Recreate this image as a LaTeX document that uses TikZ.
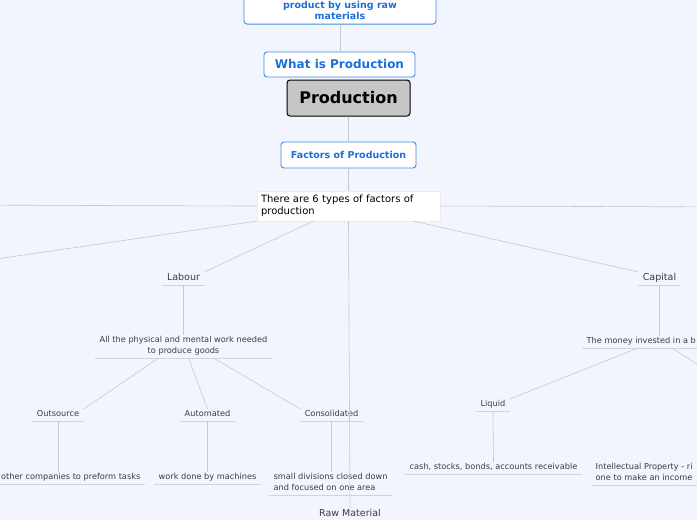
\documentclass[tikz,border=0pt]{standalone}
\usepackage{fontspec}
\setmainfont{DejaVu Sans}
\usetikzlibrary{positioning}

\definecolor{canvasblue}{RGB}{242,245,254}
\definecolor{linegray}{RGB}{196,200,208}
\definecolor{ulinegray}{RGB}{208,212,220}
\definecolor{textblue}{RGB}{26,111,219}
\definecolor{boxblue}{RGB}{58,139,234}
\definecolor{topicgray}{RGB}{60,60,60}
\definecolor{centralgray}{RGB}{198,198,198}

\begin{document}
\begin{tikzpicture}[
        x=1pt, y=-1pt,
        topicbox/.style={
                rectangle,
                rounded corners=3pt,
                draw=boxblue,
                line width=0.9pt,
                fill=white,
                text=textblue,
                align=center,
                inner sep=0pt
            },
        centralbox/.style={
                rectangle,
                rounded corners=3pt,
                draw=black,
                line width=1pt,
                fill=centralgray,
                minimum width=123pt,
                minimum height=36pt,
                font=\fontsize{16}{18}\selectfont\bfseries
            },
        notebox/.style={
                rectangle,
                draw=black!8,
                fill=white,
                text width=175pt,
                align=left,
                inner sep=4pt,
                font=\fontsize{10}{12}\selectfont
            },
        branch/.style={
                text=topicgray,
                inner xsep=4.5pt,
                inner ysep=1.5pt,
                text depth=0.25em,
                align=center,
                font=\fontsize{9.5}{11}\selectfont
            },
        leaf/.style={
                text=topicgray,
                inner xsep=4.5pt,
                inner ysep=1.5pt,
                text depth=0.25em,
                align=center,
                font=\fontsize{8.2}{11}\selectfont
            },
        link/.style={draw=linegray, line width=0.6pt},
        underline/.style={draw=ulinegray, line width=0.8pt}
    ]
    \useasboundingbox (0,0) rectangle (697,520);
    \clip (0,0) rectangle (697,520);
    \fill[canvasblue] (0,0) rectangle (697,520);

    % main column
    \node[topicbox, minimum width=192pt, anchor=south, inner ysep=4.5pt,
        font=\fontsize{9.5}{11}\selectfont\bfseries] (definition) at (340,24.5) {product by using raw\\materials};
    \node[topicbox, minimum width=151pt, minimum height=25pt,
        font=\fontsize{12}{14}\selectfont\bfseries] (whatis) at (339.5,64.5) {What is Production};
    \node[centralbox] (production) at (348.5,98) {Production};
    \node[topicbox, minimum width=135pt, minimum height=26pt,
        font=\fontsize{9.5}{11}\selectfont\bfseries] (factors) at (348.5,155) {Factors of Production};
    \node[notebox, anchor=north] (types) at (348.5,191) {There are 6 types of factors of\\production};

    % branches
    \node[branch, anchor=south] (labour) at (183.5,285) {Labour};
    \node[branch, anchor=south] (capital) at (659.5,285) {Capital};
    \node[branch, anchor=south] (rawmat) at (350,521) {Raw Material};

    % labour
    \node[leaf, anchor=south] (labourdef) at (183.5,358) {All the physical and mental work needed\\to produce goods};
    \node[leaf, anchor=south] (outsource) at (58,421) {Outsource};
    \node[leaf, anchor=south] (automated) at (207.5,421) {Automated};
    \node[leaf, anchor=south] (consolidated) at (331.5,421) {Consolidated};
    \node[leaf, anchor=south east] (outsourcedef) at (145,484) {other companies to preform tasks};
    \node[leaf, anchor=south] (automateddef) at (207.5,484) {work done by machines};
    \node[leaf, anchor=south west, align=left] (consolidateddef) at (269,495) {small divisions closed down\\and focused on one area};

    % capital
    \node[leaf, anchor=south west, align=left] (capitaldef) at (582,348) {The money invested in a b};
    \node[leaf, anchor=south] (liquid) at (493,411) {Liquid};
    \node[leaf, anchor=south] (liquiddef) at (493.5,474) {cash, stocks, bonds, accounts receivable};
    \node[leaf, anchor=south west, align=left] (ipdef) at (591,485) {Intellectual Property - ri\\one to make an income};

    \foreach \n in {labour,capital,rawmat,labourdef,outsource,automated,consolidated,
            outsourcedef,automateddef,consolidateddef,capitaldef,liquid,liquiddef,ipdef}
        \draw[underline] (\n.south west) -- (\n.south east);

    % free ends off the canvas
    \coordinate (offleft) at (-50,205);
    \coordinate (offright) at (750,207);
    \coordinate (offlowleft) at (-100,273);
    \coordinate (offcapright) at (740,392);

    \path[link] (definition.south) -- (definition.south |- whatis.north);
    \path[link] (production.south) -- (factors.north);
    \path[link] (factors.south) -- (types.north);
    \path[link] (types.west) -- (offleft);
    \path[link] (types.east) -- (offright);
    \path[link] (types.south west) -- (offlowleft);
    \path[link] ([xshift=-35pt]types.south) -- (labour.north east);
    \path[link] ([xshift=65pt]types.south) -- (capital.north west);
    \path[link] (types.south) -- (rawmat.north);
    \path[link] (labour.south) -- (labourdef.north);
    \path[link] ([xshift=-25pt]labourdef.south) -- (outsource.north east);
    \path[link] ([xshift=5pt]labourdef.south) -- (automated.north);
    \path[link] ([xshift=30pt]labourdef.south) -- (consolidated.north west);
    \path[link] (outsource.south) -- (outsource.south |- outsourcedef.north);
    \path[link] (automated.south) -- (automateddef.north);
    \path[link] (consolidated.south) -- (consolidated.south |- consolidateddef.north);
    \path[link] (capital.south) -- (capital.south |- capitaldef.north);
    \path[link] ([xshift=56pt]capitaldef.south west) -- (liquid.north east);
    \path[link] ([xshift=90pt]capitaldef.south west) -- (offcapright);
    \path[link] (liquid.south) -- (liquiddef.north);
\end{tikzpicture}
\end{document}
